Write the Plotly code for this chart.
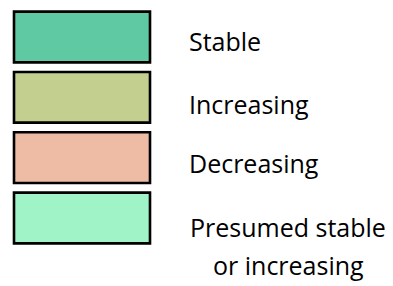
import plotly.graph_objects as go

# ---- data ----
categories = ["Stable", "Increasing", "Decreasing", "Presumed stable or increasing"]
label_lines = [["Stable"], ["Increasing"], ["Decreasing"], ["Presumed stable", "or increasing"]]
box_length = [1, 1, 1, 1]
colors = ["#5FC9A4", "#C2CF8F", "#EEBBA5", "#A0F2C7"]

# ---- layout constants ----
PAGE_OFF = 8                      # default body margin of the html page
W, H = 393 - PAGE_OFF, 286 - PAGE_OFF
FONT = "Open Sans"
FS = 25
label_shift = [-5, -8, -6, -10]   # px below box centre (cap middle)
line_gap = 38                     # px between lines of a two-line label
px_per_x = 136
px_per_cat = 60.33
box_left = 14 - PAGE_OFF
first_centre = 37 - PAGE_OFF
text_left = 187 - PAGE_OFF
text_centre = 288 - PAGE_OFF

fig = go.Figure(
    go.Bar(
        y=categories,
        x=box_length,
        orientation="h",
        marker=dict(color=colors, line=dict(color="black", width=2.6)),
        hoverinfo="skip",
    )
)

annotations = []
for i, lines in enumerate(label_lines):
    if len(lines) == 1:
        annotations.append(dict(
            x=text_left / W, xref="paper", xanchor="left",
            y=i, yref="y", yanchor="middle", yshift=label_shift[i] + 1,
            text=lines[0], showarrow=False,
            font=dict(family=FONT, size=FS, color="black"),
        ))
    else:
        for j, ln in enumerate(lines):
            annotations.append(dict(
                x=text_centre / W, xref="paper", xanchor="center",
                y=i, yref="y", yanchor="middle",
                yshift=label_shift[i] + 1 - j * line_gap,
                text=ln, showarrow=False,
                font=dict(family=FONT, size=FS, color="black"),
            ))

x0 = -box_left / px_per_x
y_top = -first_centre / px_per_cat
fig.update_layout(
    width=W, height=H,
    margin=dict(l=0, r=0, t=0, b=0),
    paper_bgcolor="white", plot_bgcolor="white",
    bargap=0.16,
    showlegend=False,
    xaxis=dict(range=[x0, x0 + W / px_per_x], visible=False, fixedrange=True),
    yaxis=dict(type="category", range=[y_top + H / px_per_cat, y_top], visible=False, fixedrange=True),
    annotations=annotations,
)

fig.write_html("out.html")
